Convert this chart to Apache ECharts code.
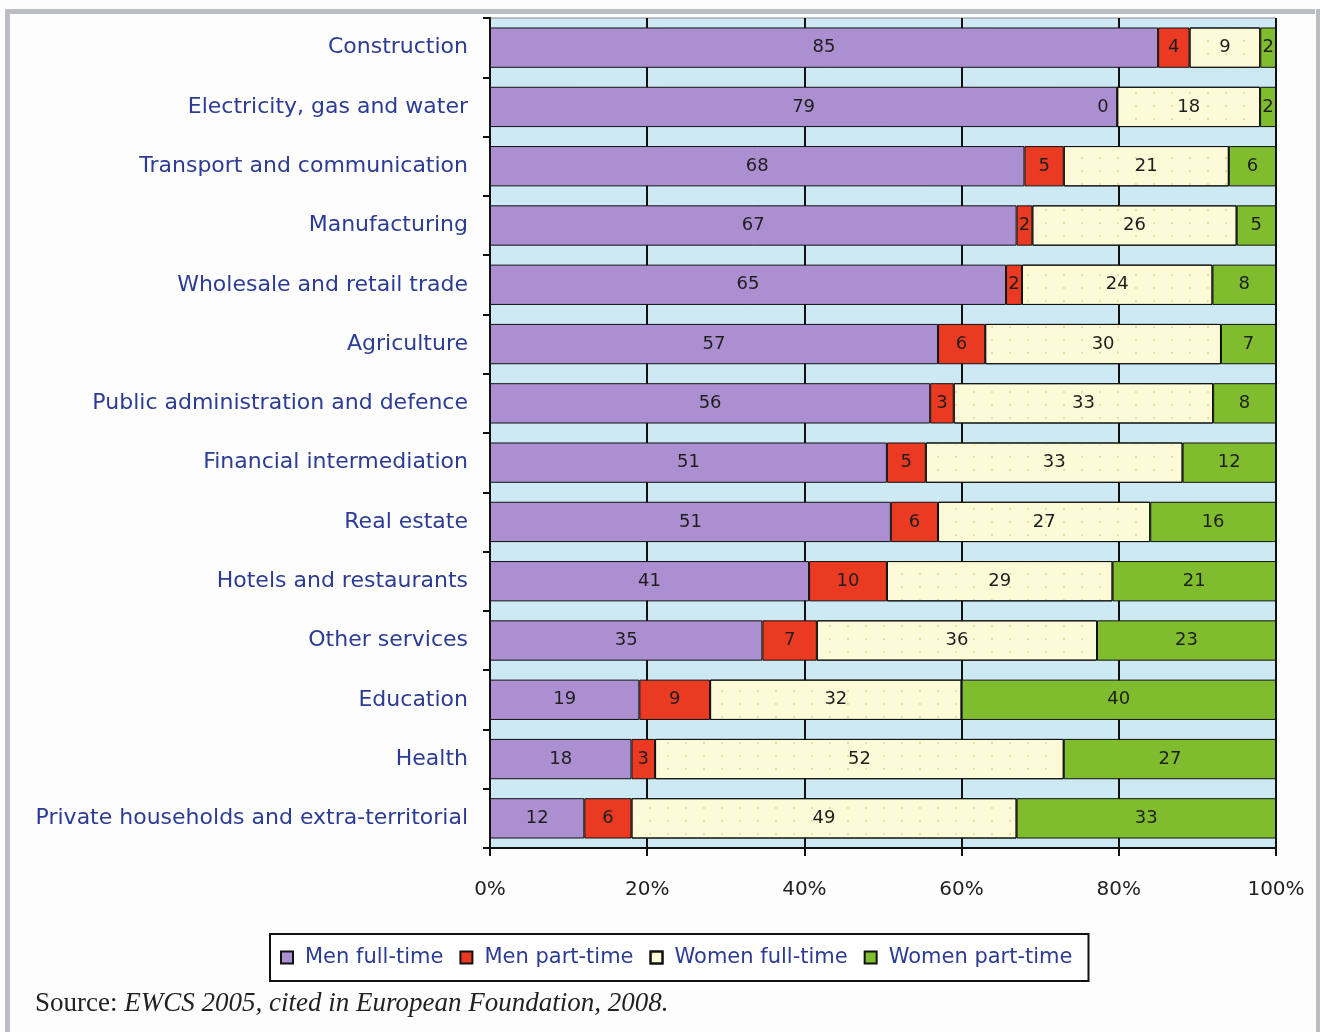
<!DOCTYPE html>
<html>
<head>
<meta charset="utf-8">
<script src="https://cdn.jsdelivr.net/npm/echarts@6/dist/echarts.min.js"></script>
<style>
  html, body { margin: 0; padding: 0; background: #fdfdfd; }
  #chart { width: 1320px; height: 1032px; }
</style>
</head>
<body>
<div id="chart"></div>
<script>
// Sectors, top to bottom
const sectors = [
  'Construction',
  'Electricity, gas and water',
  'Transport and communication',
  'Manufacturing',
  'Wholesale and retail trade',
  'Agriculture',
  'Public administration and defence',
  'Financial intermediation',
  'Real estate',
  'Hotels and restaurants',
  'Other services',
  'Education',
  'Health',
  'Private households and extra-territorial'
];

// Employment shares (%) by sex and working time
const menFullTime     = [85, 79, 68, 67, 65, 57, 56, 51, 51, 41, 35, 19, 18, 12];
const menPartTime     = [4, 0, 5, 2, 2, 6, 3, 5, 6, 10, 7, 9, 3, 6];
const womenFullTime   = [9, 18, 21, 26, 24, 30, 33, 33, 27, 29, 36, 32, 52, 49];
const womenPartTime   = [2, 2, 6, 5, 8, 7, 8, 12, 16, 21, 23, 40, 27, 33];

const seriesNames = ['Men full-time', 'Men part-time', 'Women full-time', 'Women part-time'];
const xTicks = [0, 20, 40, 60, 80, 100];

const groups = [menFullTime, menPartTime, womenFullTime, womenPartTime];
const colors = ['#ac8fd0', '#ea3a22', '#fdfad8', '#7fbd2e'];
const FONT = 'DejaVu Sans, Verdana, sans-serif';

// 100% stacked: each row is scaled to its own total, labels keep the survey figure
const totals = sectors.map((_, i) => groups.reduce((s, g) => s + g[i], 0));

const labelBase = {
  show: true,
  position: 'inside',
  fontFamily: FONT,
  fontSize: 18,
  color: '#1e1e1e',
  formatter: p => String(p.data.raw)
};

const series = groups.map((g, k) => ({
  name: seriesNames[k],
  type: 'bar',
  stack: 'share',
  barCategoryGap: '32%',
  itemStyle: Object.assign({
    color: colors[k],
    borderColor: '#111',
    borderWidth: 1
  }, k === 2 ? {
    decal: {
      symbol: 'circle',
      symbolSize: 0.45,
      dashArrayX: [4, 14],
      dashArrayY: [4, 9],
      color: 'rgba(196,186,80,0.55)'
    }
  } : {}),
  label: labelBase,
  data: g.map((v, i) => {
    const item = { value: v / totals[i] * 100, raw: v };
    if (v === 0) item.label = { position: 'left', distance: 8 };
    return item;
  })
}));

const chart = echarts.init(document.getElementById('chart'), null, { renderer: 'canvas' });

chart.setOption({
  animation: false,
  backgroundColor: '#fdfdfd',
  grid: {
    left: 490, right: 44, top: 18, bottom: 184,
    show: true,
    backgroundColor: '#cde9f4',
    borderColor: '#8a8a8a',
    borderWidth: 1
  },
  legend: {
    data: seriesNames,
    left: 270,
    top: 934,
    itemWidth: 12,
    itemHeight: 12,
    itemGap: 16,
    padding: [13, 16, 13, 10],
    borderColor: '#111',
    borderWidth: 2,
    backgroundColor: '#ffffff',
    icon: 'rect',
    textStyle: {
      fontFamily: FONT,
      fontSize: 21,
      color: '#2c3c94',
      padding: [0, 0, 0, 7]
    }
  },
  xAxis: {
    type: 'value',
    min: xTicks[0],
    max: xTicks[xTicks.length - 1],
    interval: 20,
    axisLine: { show: true, lineStyle: { color: '#111', width: 2 } },
    axisTick: { show: true, length: 8, lineStyle: { color: '#111', width: 2 } },
    splitLine: { show: true, lineStyle: { color: '#111', width: 2 } },
    axisLabel: {
      margin: 32,
      fontFamily: FONT,
      fontSize: 20,
      color: '#222',
      formatter: '{value}%'
    }
  },
  yAxis: {
    type: 'category',
    inverse: true,
    data: sectors,
    axisLine: { show: true, lineStyle: { color: '#111', width: 2 } },
    axisTick: { show: true, length: 7, lineStyle: { color: '#111', width: 2 } },
    axisLabel: {
      margin: 22,
      fontFamily: FONT,
      fontSize: 22,
      color: '#2c3c94'
    }
  },
  series: series,
  graphic: [
    // outer frame
    { type: 'rect', shape: { x: 5, y: 9, width: 1310, height: 5 }, style: { fill: '#bcbdc2' }, silent: true },
    { type: 'rect', shape: { x: 5, y: 9, width: 5, height: 1023 }, style: { fill: '#bcbdc2' }, silent: true },
    { type: 'rect', shape: { x: 1316, y: 9, width: 5, height: 1023 }, style: { fill: '#bcbdc2' }, silent: true },
    {
      type: 'text',
      left: 35,
      top: 990,
      style: {
        text: '{n|Source: }{i|EWCS 2005, cited in European Foundation, 2008.}',
        rich: {
          n: { fontFamily: 'Liberation Serif, Times New Roman, serif', fontSize: 27, fill: '#222' },
          i: { fontFamily: 'Liberation Serif, Times New Roman, serif', fontSize: 27, fontStyle: 'italic', fill: '#222' }
        }
      }
    }
  ]
});
</script>
</body>
</html>
